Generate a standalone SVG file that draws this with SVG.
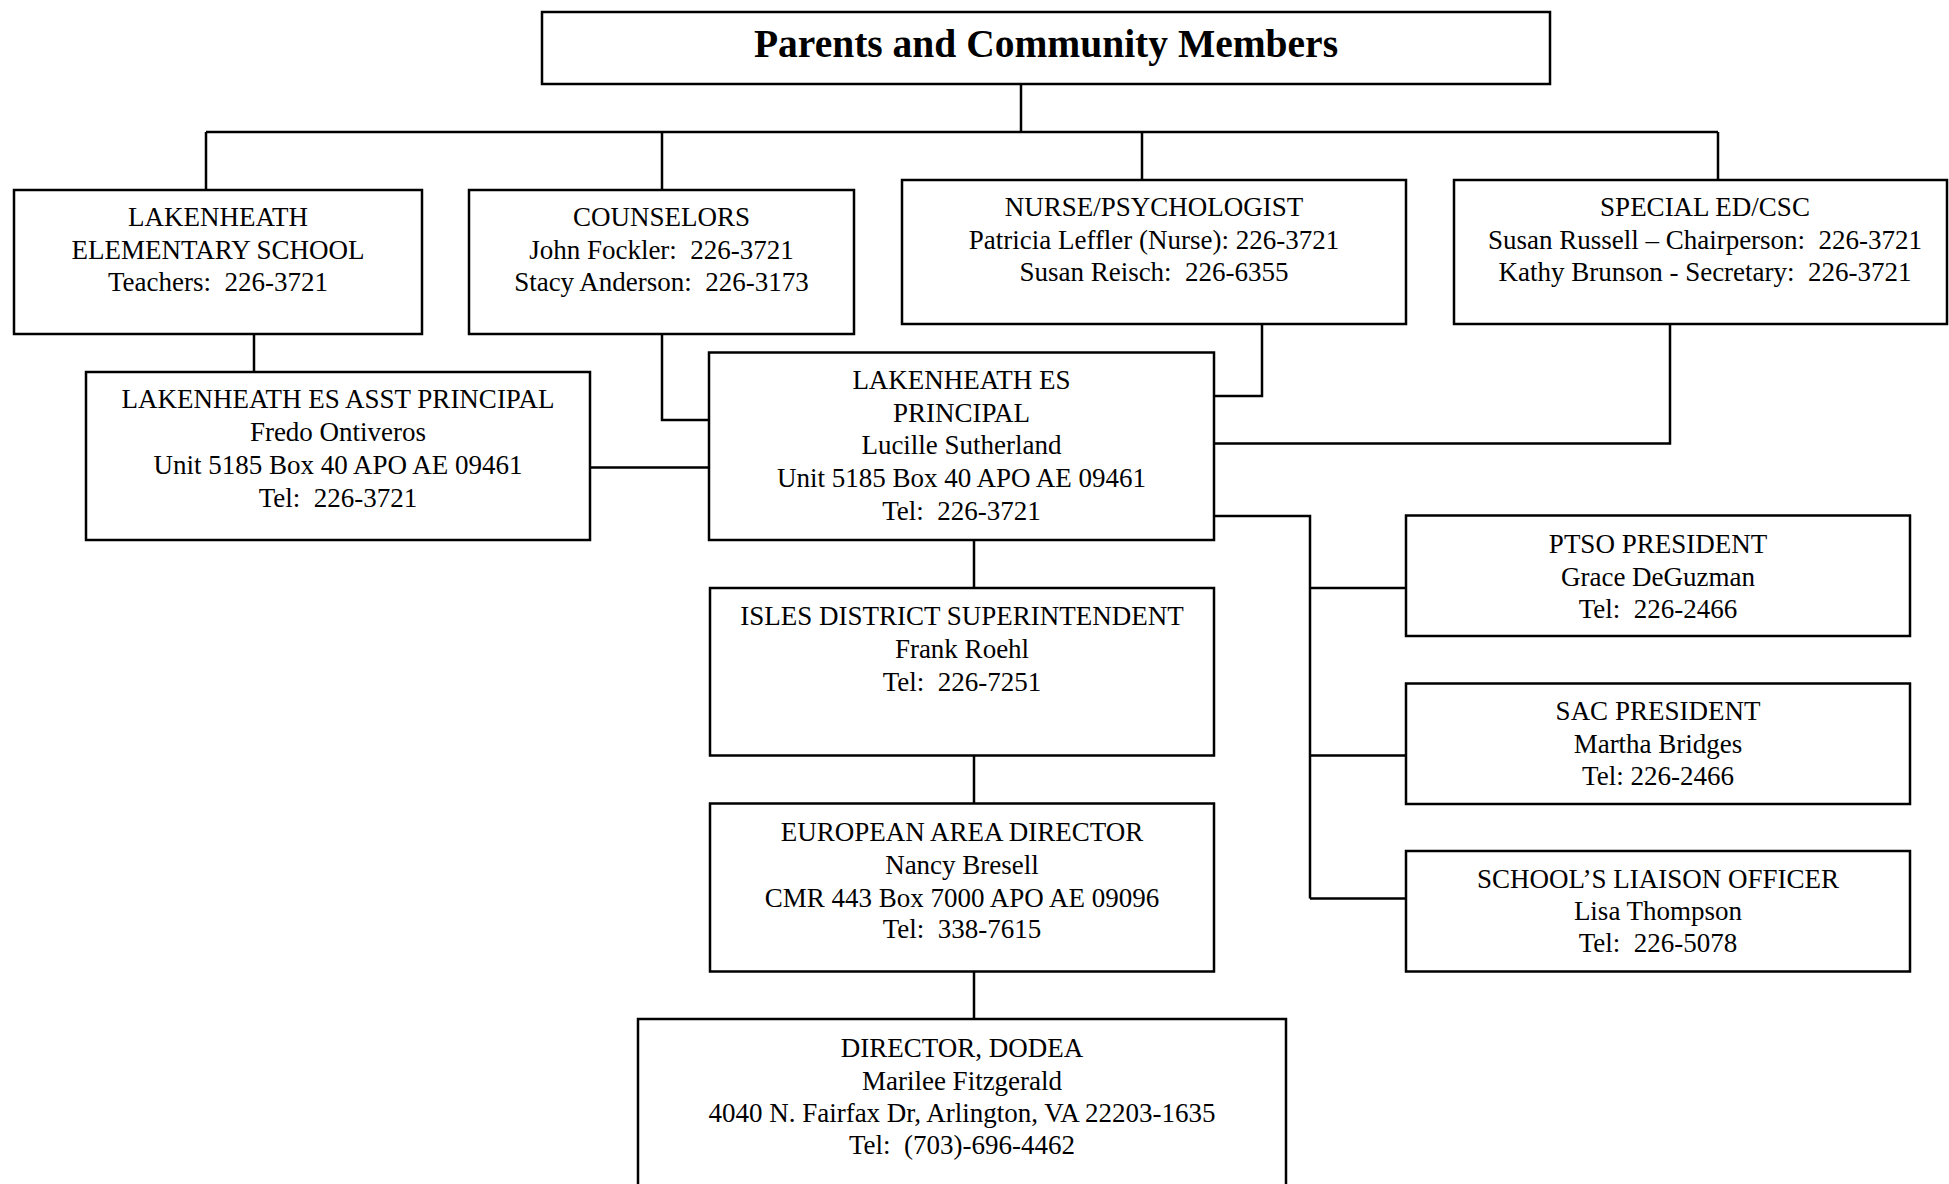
<svg xmlns="http://www.w3.org/2000/svg" width="1949" height="1184" viewBox="0 0 1949 1184" xml:space="preserve">
<style>
.box{fill:#fff;stroke:#000;stroke-width:2.5}
.ln{fill:none;stroke:#000;stroke-width:2.5}
.t{font-family:"Liberation Serif","Times New Roman",serif;font-size:27px;text-anchor:middle;fill:#000;white-space:pre}
.title{font-family:"Liberation Serif","Times New Roman",serif;font-size:39.5px;font-weight:bold;text-anchor:middle;fill:#000}
</style>
<rect width="1949" height="1184" fill="#fff"/>
<g id="connectors">
<path class="ln" d="M1021,84V132M206,132H1718M206,132V190M662,132V190M1142,132V180M1718,132V180"/>
<path class="ln" d="M254,334V372"/>
<path class="ln" d="M662,334V420H709"/>
<path class="ln" d="M1262,324V396H1214"/>
<path class="ln" d="M1670,324V443.5H1214"/>
<path class="ln" d="M590,467.5H709"/>
<path class="ln" d="M1214,516H1310V898.5M1310,588H1406M1310,755.5H1406M1310,898.5H1406"/>
<path class="ln" d="M974,540V588M974,755.5V803.5M974,971.5V1019"/>
</g>
<g id="parents">
<rect class="box" x="542" y="12" width="1008" height="72"/>
<text class="title" x="1046" y="57">Parents and Community Members</text>
</g>
<g id="lakenheath-es">
<rect class="box" x="14" y="190" width="408" height="144"/>
<text class="t" x="218" y="226">LAKENHEATH</text>
<text class="t" x="218" y="259">ELEMENTARY SCHOOL</text>
<text class="t" x="218" y="291" xml:space="preserve">Teachers:  226-3721</text>
</g>
<g id="counselors">
<rect class="box" x="469" y="190" width="385" height="144"/>
<text class="t" x="661.5" y="226">COUNSELORS</text>
<text class="t" x="661.5" y="259" xml:space="preserve">John Fockler:  226-3721</text>
<text class="t" x="661.5" y="291" xml:space="preserve">Stacy Anderson:  226-3173</text>
</g>
<g id="nurse">
<rect class="box" x="902" y="180" width="504" height="144"/>
<text class="t" x="1154" y="216">NURSE/PSYCHOLOGIST</text>
<text class="t" x="1154" y="249">Patricia Leffler (Nurse): 226-3721</text>
<text class="t" x="1154" y="281" xml:space="preserve">Susan Reisch:  226-6355</text>
</g>
<g id="special-ed">
<rect class="box" x="1454" y="180" width="493" height="144"/>
<text class="t" x="1705" y="216">SPECIAL ED/CSC</text>
<text class="t" x="1705" y="249" xml:space="preserve">Susan Russell – Chairperson:  226-3721</text>
<text class="t" x="1705" y="281" xml:space="preserve">Kathy Brunson - Secretary:  226-3721</text>
</g>
<g id="asst-principal">
<rect class="box" x="86" y="372" width="504" height="168"/>
<text class="t" x="338" y="408">LAKENHEATH ES ASST PRINCIPAL</text>
<text class="t" x="338" y="441">Fredo Ontiveros</text>
<text class="t" x="338" y="474">Unit 5185 Box 40 APO AE 09461</text>
<text class="t" x="338" y="507" xml:space="preserve">Tel:  226-3721</text>
</g>
<g id="principal">
<rect class="box" x="709" y="352.5" width="505" height="187.5"/>
<text class="t" x="961.5" y="389">LAKENHEATH ES</text>
<text class="t" x="961.5" y="421.5">PRINCIPAL</text>
<text class="t" x="961.5" y="454">Lucille Sutherland</text>
<text class="t" x="961.5" y="487">Unit 5185 Box 40 APO AE 09461</text>
<text class="t" x="961.5" y="520" xml:space="preserve">Tel:  226-3721</text>
</g>
<g id="isles">
<rect class="box" x="710" y="588" width="504" height="167.5"/>
<text class="t" x="962" y="625">ISLES DISTRICT SUPERINTENDENT</text>
<text class="t" x="962" y="658">Frank Roehl</text>
<text class="t" x="962" y="691" xml:space="preserve">Tel:  226-7251</text>
</g>
<g id="european">
<rect class="box" x="710" y="803.5" width="504" height="168"/>
<text class="t" x="962" y="841">EUROPEAN AREA DIRECTOR</text>
<text class="t" x="962" y="874">Nancy Bresell</text>
<text class="t" x="962" y="906.5">CMR 443 Box 7000 APO AE 09096</text>
<text class="t" x="962" y="938" xml:space="preserve">Tel:  338-7615</text>
</g>
<g id="dodea">
<rect class="box" x="638" y="1019" width="648" height="200"/>
<text class="t" x="962" y="1057">DIRECTOR, DODEA</text>
<text class="t" x="962" y="1089.5">Marilee Fitzgerald</text>
<text class="t" x="962" y="1122">4040 N. Fairfax Dr, Arlington, VA 22203-1635</text>
<text class="t" x="962" y="1154" xml:space="preserve">Tel:  (703)-696-4462</text>
</g>
<g id="ptso">
<rect class="box" x="1406" y="515.5" width="504" height="120.5"/>
<text class="t" x="1658" y="553">PTSO PRESIDENT</text>
<text class="t" x="1658" y="586">Grace DeGuzman</text>
<text class="t" x="1658" y="618" xml:space="preserve">Tel:  226-2466</text>
</g>
<g id="sac">
<rect class="box" x="1406" y="683.5" width="504" height="120.5"/>
<text class="t" x="1658" y="720">SAC PRESIDENT</text>
<text class="t" x="1658" y="753">Martha Bridges</text>
<text class="t" x="1658" y="785">Tel: 226-2466</text>
</g>
<g id="liaison">
<rect class="box" x="1406" y="851" width="504" height="120.5"/>
<text class="t" x="1658" y="888">SCHOOL’S LIAISON OFFICER</text>
<text class="t" x="1658" y="920">Lisa Thompson</text>
<text class="t" x="1658" y="952" xml:space="preserve">Tel:  226-5078</text>
</g>
</svg>
